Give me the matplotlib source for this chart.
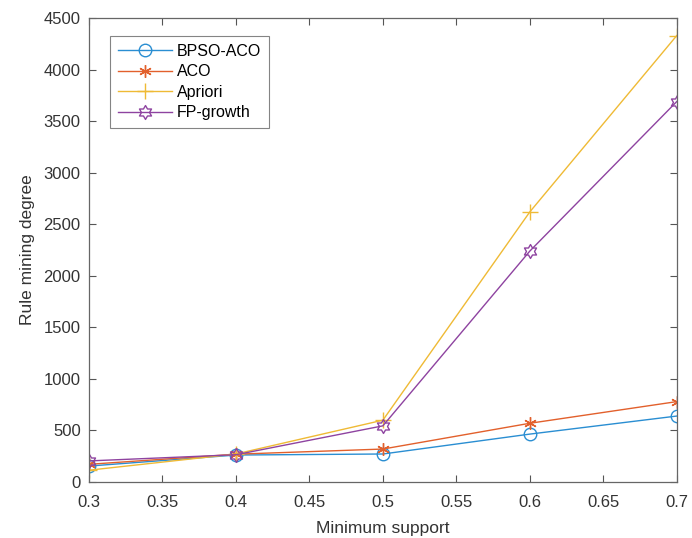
import numpy as np
import matplotlib
matplotlib.use('Agg')
import matplotlib.pyplot as plt
from matplotlib.path import Path

plt.rcParams['font.family'] = ['Liberation Sans', 'DejaVu Sans']

support = [0.3, 0.4, 0.5, 0.6, 0.7]
bpso_aco = [155, 262, 272, 465, 640]
aco = [172, 270, 320, 570, 780]
apriori = [115, 272, 600, 2620, 4330]
fp_growth = [205, 265, 545, 2240, 3690]

# hexagram marker (MATLAB style)
ang = np.pi / 2 + np.arange(12) * np.pi / 6
rad = np.where(np.arange(12) % 2 == 0, 1.0, 0.58)
verts = np.column_stack([rad * np.cos(ang), rad * np.sin(ang)])
verts = np.vstack([verts, verts[0]])
hexagram = Path(verts, [Path.MOVETO] + [Path.LINETO] * 11 + [Path.CLOSEPOLY])

fig = plt.figure(figsize=(6.92, 5.38), dpi=100)
ax = fig.add_axes([0.1286, 0.104, 0.8494, 0.8625])

ax.plot(support, bpso_aco, color='#2A8ED2', marker='o', markersize=9,
        markerfacecolor='none', linewidth=1.0, label='BPSO-ACO')
ax.plot(support, aco, color='#E2602C', marker=(6, 2, 0), markersize=9,
        markeredgewidth=1.0, linewidth=1.0, label='ACO')
ax.plot(support, apriori, color='#EFBA35', marker='+', markersize=11,
        linewidth=1.0, label='Apriori')
ax.plot(support, fp_growth, color='#8E43A0', marker=hexagram, markersize=10,
        markerfacecolor='none', linewidth=1.0, label='FP-growth')

ax.set_xlim(0.3, 0.7)
ax.set_ylim(0, 4500)
ax.set_xticks(np.arange(0.3, 0.701, 0.05))
ax.set_xticklabels(['0.3', '0.35', '0.4', '0.45', '0.5', '0.55', '0.6', '0.65', '0.7'])
ax.set_yticks(np.arange(0, 4501, 500))

ax.set_xlabel('Minimum support', fontsize=12.5, color='#333333', labelpad=8)
ax.set_ylabel('Rule mining degree', fontsize=12.5, color='#333333', labelpad=6)
ax.tick_params(direction='in', top=True, right=True, labelsize=12,
               colors='#555555', labelcolor='#333333', length=5, width=0.8)
ax.tick_params(axis='x', pad=9)
ax.tick_params(axis='y', pad=6)
for s in ax.spines.values():
    s.set_color('#666666')
    s.set_linewidth(0.9)

leg = ax.legend(loc='upper left', bbox_to_anchor=(0.035, 0.962), fontsize=11.5,
                fancybox=False, edgecolor='#666666', handlelength=3.4,
                handletextpad=0.3, borderpad=0.5, labelspacing=0.35,
                borderaxespad=0)
leg.get_frame().set_linewidth(0.8)

fig.savefig('out.png', dpi=100)
